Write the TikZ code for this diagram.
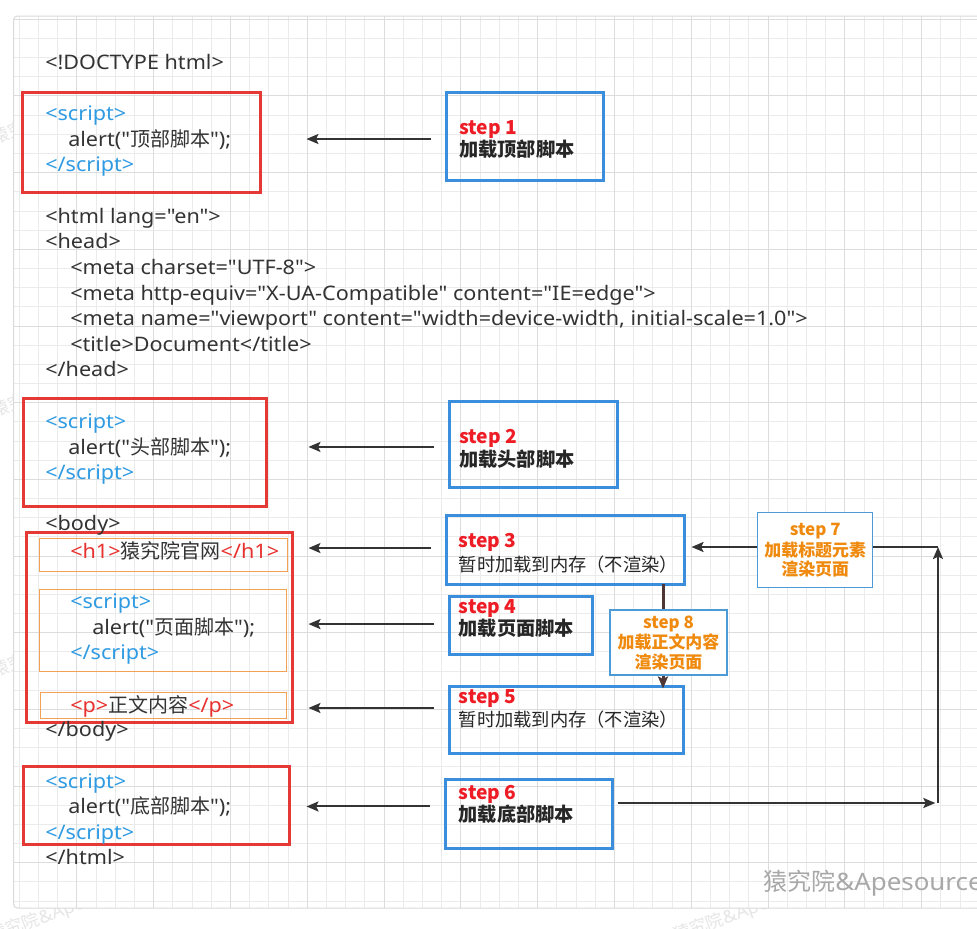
\documentclass[tikz,border=0pt]{standalone}
\usepackage{fontspec}
\setmainfont{Noto Sans}[Ligatures=TeXOff, FakeStretch=1.08]
\newfontfamily\cjk{Noto Sans CJK SC}[Ligatures=TeXOff]
\usetikzlibrary{arrows.meta,fit,calc}

\definecolor{redbox}{HTML}{E53935}
\definecolor{bluebox}{HTML}{3A8EDB}
\definecolor{thinbox}{HTML}{4C9BD6}
\definecolor{orangebox}{HTML}{F2A254}
\definecolor{tagblue}{HTML}{2F9BE3}
\definecolor{tagred}{HTML}{E8312F}
\definecolor{codetext}{HTML}{333333}
\definecolor{stepred}{HTML}{EE1C25}
\definecolor{steporange}{HTML}{EF8A0E}
\definecolor{arrowc}{HTML}{333333}
\definecolor{brownarrow}{HTML}{4E3636}
\definecolor{gridminor}{HTML}{EBEBEB}
\definecolor{gridmajor}{HTML}{DCDCDC}
\definecolor{panelline}{HTML}{DADADA}
\definecolor{wmgray}{HTML}{A8A8A8}
\definecolor{wmfaint}{HTML}{E6E6E6}

\newcommand\codefont{\fontsize{15pt}{18pt}\selectfont}
\newcommand\stepfont{\cjk\fontsize{14.4pt}{17pt}\selectfont\bfseries}
\newcommand\memfont{\cjk\fontsize{13.7pt}{17pt}\selectfont}
\newcommand\notefont{\cjk\fontsize{12.7pt}{15pt}\selectfont\bfseries}

\begin{document}
\begin{tikzpicture}[x=0.75pt,y=-0.75pt,
  codeln/.style={font=\codefont, text=codetext, anchor=base west, inner sep=0pt},
  steplbl/.style={font=\stepfont, text=stepred, anchor=base west, inner sep=0pt},
  stepcn/.style={font=\stepfont, text=black!85, anchor=base west, inner sep=0pt},
  memtxt/.style={font=\memfont, text=black!85, anchor=base west, inner sep=0pt},
  notetxt/.style={font=\notefont, text=steporange, anchor=base, inner sep=0pt},
  redframe/.style={draw=redbox, line width=2.25pt, inner sep=0pt},
  orangeframe/.style={draw=orangebox, line width=0.8pt, inner sep=0pt},
  stepframe/.style={draw=bluebox, line width=2.25pt, inner sep=0pt},
  noteframe/.style={draw=thinbox, line width=0.8pt, fill=white, inner sep=0pt},
  arr/.style={draw=arrowc, line width=1.5pt, -{Stealth[length=9pt,width=7.5pt,inset=1.8pt]}},
  faintmark/.style={font=\fontsize{13pt}{15pt}\selectfont, text=wmfaint, rotate=20, anchor=base west, inner sep=0pt}
]
\useasboundingbox (0,0) rectangle (977,928);
\fill[white] (0,0) rectangle (977,928);

% faint tiled marks, showing only outside the canvas
\node[faintmark] (fm1) at (-8,942) {{\cjk 猿究院}\&Apes};
\node[faintmark] (fm2) at (676,942) {{\cjk 猿究院}\&Apes};
\node[faintmark] (fm3) at (-6,145) {{\cjk 猿究}};
\node[faintmark] (fm4) at (-6,418) {{\cjk 猿究}};
\node[faintmark] (fm5) at (-6,678) {{\cjk 猿究}};

% drawing canvas with its grid
\fill[white, rounded corners=3pt] (13.5,16) rectangle (1000,908);
\begin{scope}
  \clip[rounded corners=3pt] (13.5,16) rectangle (1000,908);
  \foreach \k in {1,...,50} \draw[gridminor, line width=0.75pt] ({19.2*\k},0) -- ({19.2*\k},928);
  \foreach \k in {0,...,46} \draw[gridminor, line width=0.75pt] (0,{19.3+19.17*\k}) -- (1000,{19.3+19.17*\k});
  \foreach \k in {4,8,...,48} \draw[gridmajor, line width=0.75pt] ({19.2*\k},0) -- ({19.2*\k},928);
  \foreach \k in {0,4,...,44} \draw[gridmajor, line width=0.75pt] (0,{19.3+19.17*\k}) -- (1000,{19.3+19.17*\k});
\end{scope}
\draw[panelline, line width=0.75pt, rounded corners=3pt] (13.5,16) rectangle (1000,908);

% script / markup frames
\node[redframe, fit={(22.7,92.7)(260,192.7)}] (rb1) {};
\node[redframe, fit={(23.3,398.3)(266.7,506)}] (rb2) {};
\node[redframe, fit={(26,532.7)(292.7,722.7)}] (rb3) {};
\node[redframe, fit={(23,766)(289,844)}] (rb4) {};
\node[orangeframe, fit={(39.3,538.3)(287.3,571.7)}] (ob1) {};
\node[orangeframe, fit={(39.3,589.3)(286.7,671.7)}] (ob2) {};
\node[orangeframe, fit={(40.7,692.3)(286.7,718.3)}] (ob3) {};

% HTML source
\node[codeln] (l01) at (45,69.6) {<!DOCTYPE html>};
\node[codeln] (l02) at (45,120.6) {\textcolor{tagblue}{<script>}};
\node[codeln] (l03) at (68,146.6) {alert("{\cjk 顶部脚本}");};
\node[codeln] (l04) at (45,171.6) {\textcolor{tagblue}{</script>}};
\node[codeln] (l05) at (45,223.6) {<html lang="en">};
\node[codeln] (l06) at (45,248.6) {<head>};
\node[codeln] (l07) at (70,274.6) {<meta charset="UTF-8">};
\node[codeln] (l08) at (70,300.6) {<meta http-equiv="X-UA-Compatible" content="IE=edge">};
\node[codeln] (l09) at (70,325.6) {<meta name="viewport" content="width=device-width, initial-scale=1.0">};
\node[codeln] (l10) at (70,351.6) {<title>Document</title>};
\node[codeln] (l11) at (45,376.6) {</head>};
\node[codeln] (l12) at (45,428.6) {\textcolor{tagblue}{<script>}};
\node[codeln] (l13) at (68,454.6) {alert("{\cjk 头部脚本}");};
\node[codeln] (l14) at (45,479.6) {\textcolor{tagblue}{</script>}};
\node[codeln] (l15) at (45,530.6) {<body>};
\node[codeln] (l16) at (70,558.6) {\textcolor{tagred}{<h1>}{\cjk 猿究院官网}\textcolor{tagred}{</h1>}};
\node[codeln] (l17) at (70,608.6) {\textcolor{tagblue}{<script>}};
\node[codeln] (l18) at (92,634.6) {alert("{\cjk 页面脚本}");};
\node[codeln] (l19) at (70,659.6) {\textcolor{tagblue}{</script>}};
\node[codeln] (l20) at (70,712.6) {\textcolor{tagred}{<p>}{\cjk 正文内容}\textcolor{tagred}{</p>}};
\node[codeln] (l21) at (45,736.6) {</body>};
\node[codeln] (l22) at (45,788.6) {\textcolor{tagblue}{<script>}};
\node[codeln] (l23) at (68,813.6) {alert("{\cjk 底部脚本}");};
\node[codeln] (l24) at (45,839.6) {\textcolor{tagblue}{</script>}};
\node[codeln] (l25) at (45,864.6) {</html>};

% step frames
\node[stepframe, fit={(446.7,92.7)(603.3,180)}] (s1) {};
\node[stepframe, fit={(449,401)(617,487)}] (s2) {};
\node[stepframe, fit={(446.7,515)(684,584)}] (s3) {};
\node[stepframe, fit={(449,596)(592,654)}] (s4) {};
\node[stepframe, fit={(449,686)(683,753)}] (s5) {};
\node[stepframe, fit={(445,779)(612,848)}] (s6) {};

\node[steplbl] (s1a) at (459,134) {step 1};
\node[stepcn]  (s1b) at (459,156.6) {加载顶部脚本};
\node[steplbl] (s2a) at (459,443.3) {step 2};
\node[stepcn]  (s2b) at (459,466.3) {加载头部脚本};
\node[steplbl] (s3a) at (458.5,547.3) {step 3};
\node[memtxt]  (s3b) at (458.5,571) {暂时加载到内存（不渲染）};
\node[steplbl] (s4a) at (458.5,613.3) {step 4};
\node[stepcn]  (s4b) at (458.5,635.6) {加载页面脚本};
\node[steplbl] (s5a) at (458.5,703.3) {step 5};
\node[memtxt]  (s5b) at (458.5,726.3) {暂时加载到内存（不渲染）};
\node[steplbl] (s6a) at (458.5,799.3) {step 6};
\node[stepcn]  (s6b) at (458.5,821.3) {加载底部脚本};

% turning points of the return path
\coordinate (c1) at (938,803);
\coordinate (c2) at (938,547);

% connectors from each step to its markup
\draw[arr, shorten <=10.3pt, shorten >=33.7pt] ([yshift=-2pt]s1.west) -- ([yshift=-2pt]s1.west -| rb1.east);
\draw[arr, shorten <=10.5pt, shorten >=30.2pt] ([yshift=-2.2pt]s2.west) -- ([yshift=-2.2pt]s2.west -| rb2.east);
\draw[arr, shorten <=10.3pt, shorten >=10.7pt] ([yshift=1.1pt]s3.west) -- ([yshift=1.1pt]s3.west -| rb3.east);
\draw[arr, shorten <=10.5pt, shorten >=10.7pt] ([yshift=0.7pt]s4.west) -- ([yshift=0.7pt]s4.west -| rb3.east);
\draw[arr, shorten <=10.5pt, shorten >=10.7pt] ([yshift=-2pt]s5.west |- ob3.east) -- ([yshift=-2pt]ob3.east -| rb3.east);
\draw[arr, shorten <=10.5pt, shorten >=12pt] ([yshift=-1.1pt]s6.west |- rb4.east) -- ([yshift=-1.1pt]rb4.east);

% return path: step 6 -> step 3
\draw[arr, shorten <=3pt, shorten >=2pt] (s6.east |- c1) -- (c1);
\draw[arr] (c1) -- (c2);
\draw[arr, shorten >=4.5pt] (c2) -- (c2 -| s3.east);

% step 3 -> step 5
\coordinate (d1) at (663,584);
\draw[draw=brownarrow, line width=2.25pt, shorten >=-3pt,
      -{Stealth[length=9pt,width=7.5pt,inset=1.8pt]}]
  (d1) -- (d1 |- s5.north);

% notes on the two connectors
\node[noteframe, fit={(757.7,512.7)(872.7,587.3)}] (s7) {};
\coordinate (y7a) at (0,535.5);
\coordinate (y7b) at (0,556.5);
\coordinate (y7c) at (0,575.5);
\node[notetxt] (s7a) at (s7.center |- y7a) {step 7};
\node[notetxt] (s7b) at (s7.center |- y7b) {加载标题元素};
\node[notetxt] (s7c) at (s7.center |- y7c) {渲染页面};
\node[noteframe, fit={(610,610)(727,675)}] (s8) {};
\coordinate (y8a) at (0,628.2);
\coordinate (y8b) at (0,648.2);
\coordinate (y8c) at (0,668.2);
\node[notetxt] (s8a) at (s8.center |- y8a) {step 8};
\node[notetxt] (s8b) at (s8.center |- y8b) {加载正文内容};
\node[notetxt] (s8c) at (s8.center |- y8c) {渲染页面};

% corner mark
\node[anchor=base west, inner sep=0pt, font=\fontsize{18pt}{21pt}\selectfont, text=wmgray] (wm) at (763,890.5) {{\cjk 猿究院}\&Apesource};
\end{tikzpicture}
\end{document}
